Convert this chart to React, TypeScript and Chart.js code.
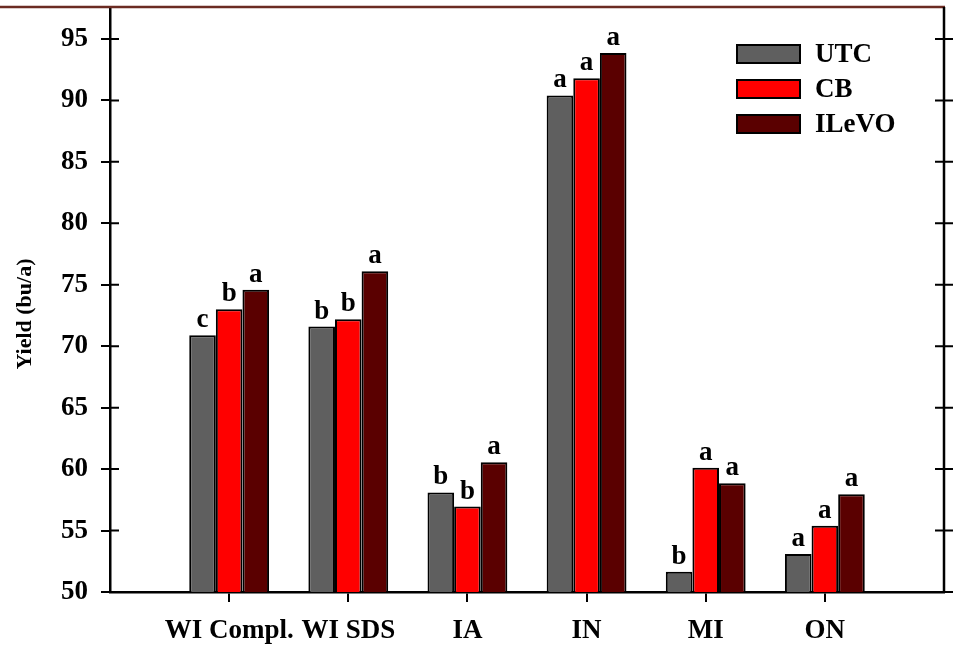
import { useEffect, useRef } from "react";
import { Chart, registerables } from "chart.js";

Chart.register(...registerables);

// category slots: empty slot at each end, like the original axis
const locations = ["WI Compl.", "WI SDS", "IA", "IN", "MI", "ON"];
const utcYield = [70.9, 71.6, 58.1, 90.4, 51.65, 53.1];
const cbYield = [73.0, 72.2, 56.95, 91.8, 60.1, 55.4];
const ilevoYield = [74.6, 76.1, 60.55, 93.85, 58.85, 57.95];
const utcLetters = ["c", "b", "b", "a", "b", "a"];
const cbLetters = ["b", "b", "b", "a", "a", "a"];
const ilevoLetters = ["a", "a", "a", "a", "a", "a"];
const yTicks = [50, 55, 60, 65, 70, 75, 80, 85, 90, 95];

const SERIF = "'Liberation Serif', 'Times New Roman', serif";
const pad = (arr: any[]) => [null, ...arr, null];

export default function App() {
  const canvasRef = useRef<HTMLCanvasElement>(null);

  useEffect(() => {
    const ctx = canvasRef.current?.getContext("2d");
    if (!ctx) return;

    const letters = [utcLetters, cbLetters, ilevoLetters];

    const extrasPlugin = {
      id: "extras",
      afterDraw(chart: any) {
        const c = chart.ctx;
        const { left, right, top, bottom } = chart.chartArea;
        const y = chart.scales.y;
        c.save();

        // maroon frame line at top
        c.strokeStyle = "#6B2B22";
        c.lineWidth = 2.5;
        c.beginPath();
        c.moveTo(0, top);
        c.lineTo(right + 1, top);
        c.stroke();

        // right axis + ticks crossing both axes
        c.strokeStyle = "#000";
        c.lineWidth = 2.5;
        c.beginPath();
        c.moveTo(right, top);
        c.lineTo(right, bottom);
        c.stroke();
        c.lineWidth = 2;
        yTicks.forEach((v) => {
          const py = y.getPixelForValue(v);
          c.beginPath();
          c.moveTo(right - 9, py);
          c.lineTo(right + 9, py);
          c.moveTo(left, py);
          c.lineTo(left + 9, py);
          c.stroke();
        });

        // y axis title
        c.fillStyle = "#000";
        c.font = `bold 22px ${SERIF}`;
        c.textAlign = "center";
        c.textBaseline = "middle";
        c.save();
        c.translate(25, 314);
        c.rotate(-Math.PI / 2);
        c.fillText("Yield (bu/a)", 0, 0);
        c.restore();

        // significance letters
        c.font = `bold 27px ${SERIF}`;
        c.textAlign = "center";
        c.textBaseline = "alphabetic";
        chart.data.datasets.forEach((_: any, di: number) => {
          const meta = chart.getDatasetMeta(di);
          meta.data.forEach((bar: any, i: number) => {
            if (i === 0 || i > locations.length) return;
            c.fillText(letters[di][i - 1], bar.x, bar.y - 8);
          });
        });

        // legend
        c.font = `bold 27px ${SERIF}`;
        c.textAlign = "left";
        c.textBaseline = "middle";
        chart.data.datasets.forEach((ds: any, di: number) => {
          const cy = 54 + di * 35;
          c.fillStyle = ds.backgroundColor;
          c.fillRect(737, cy - 9, 63, 18);
          c.strokeStyle = "#000";
          c.lineWidth = 2;
          c.strokeRect(737, cy - 9, 63, 18);
          c.fillStyle = "#000";
          c.fillText(ds.label, 815, cy + 1);
        });
        c.restore();
      },
    };

    const chart = new Chart(ctx, {
      type: "bar",
      data: {
        labels: ["", ...locations, ""],
        datasets: [
          {
            label: "UTC",
            data: pad(utcYield),
            backgroundColor: "#5F5F5F",
            borderColor: "#000",
            borderWidth: 2,
          },
          {
            label: "CB",
            data: pad(cbYield),
            backgroundColor: "#FF0000",
            borderColor: "#000",
            borderWidth: 2,
          },
          {
            label: "ILeVO",
            data: pad(ilevoYield),
            backgroundColor: "#5A0000",
            borderColor: "#000",
            borderWidth: 2,
          },
        ],
      },
      options: {
        responsive: false,
        animation: false,
        layout: { padding: { top: 7, right: 13, left: 0, bottom: 0 } },
        datasets: {
          bar: { categoryPercentage: 0.67, barPercentage: 1.0 },
        },
        plugins: {
          legend: { display: false },
          tooltip: { enabled: false },
        },
        scales: {
          x: {
            offset: false,
            grid: {
              offset: false,
              drawOnChartArea: false,
              tickLength: 10,
              lineWidth: 2,
              color: (c: any) =>
                c.index === 0 || c.index === locations.length + 1 ? "rgba(0,0,0,0)" : "#000",
            },
            border: { display: true, color: "#000", width: 2.5 },
            ticks: {
              autoSkip: false,
              maxRotation: 0,
              padding: 13,
              color: "#000",
              font: { family: SERIF, size: 27, weight: "bold" },
            },
            afterFit: (s: any) => {
              s.height = 56;
              s.paddingLeft = 0;
              s.paddingRight = 0;
            },
          },
          y: {
            min: 50,
            max: 97.6,
            afterBuildTicks: (s: any) => {
              s.ticks = yTicks.map((v) => ({ value: v }));
            },
            grid: {
              drawOnChartArea: false,
              tickLength: 9,
              lineWidth: 2,
              color: "#000",
            },
            border: { display: true, color: "#000", width: 2.5 },
            ticks: {
              stepSize: 5,
              padding: 13,
              color: "#000",
              font: { family: SERIF, size: 27, weight: "bold" },
            },
            afterFit: (s: any) => {
              s.width = 110;
              s.paddingTop = 0;
              s.paddingBottom = 0;
            },
          },
        },
      },
      plugins: [extrasPlugin],
    });

    return () => chart.destroy();
  }, []);

  return (
    <div style={{ position: "absolute", left: 0, top: 0, width: 957, height: 648, background: "#fff" }}>
      <canvas ref={canvasRef} width={957} height={648} />
    </div>
  );
}
